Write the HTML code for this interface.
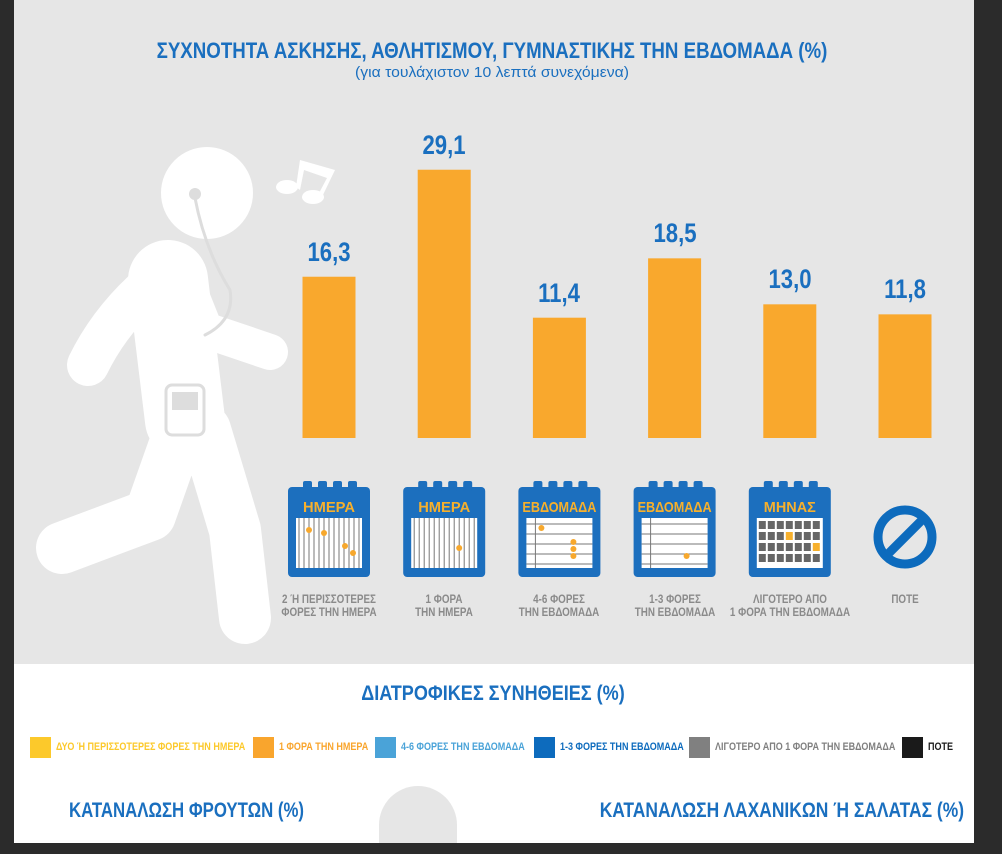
<!DOCTYPE html>
<html><head><meta charset="utf-8"><style>
body{margin:0;width:1002px;height:854px;background:#2b2b2b;overflow:hidden;font-family:"Liberation Sans",sans-serif}
#panel{position:absolute;left:14px;top:0;width:960px;height:664px;background:#e6e6e6}
#white{position:absolute;left:14px;top:664px;width:960px;height:179px;background:#fff;overflow:hidden}
.t{position:absolute;font-weight:bold;white-space:nowrap;transform-origin:center;}
</style></head><body>
<div id="panel"></div>
<div id="white"></div>
<svg id="svg" width="1002" height="854" style="position:absolute;left:0;top:0">
<g fill="none" stroke="#fff" stroke-linecap="round" stroke-linejoin="round">
<circle cx="207" cy="193" r="46" fill="#fff" stroke="none"/>
<path d="M168 280 L185 420" stroke-width="80"/>
<path d="M150 285 Q110 320 88 365" stroke-width="42"/>
<path d="M185 280 L205 330 L270 352" stroke-width="36"/>
<path d="M180 430 L150 515 L62 548" stroke-width="52"/>
<path d="M205 430 L235 530 L245 618" stroke-width="52"/>
<path d="M195 198 Q205 250 230 290 Q235 320 205 335" stroke="#ddd" stroke-width="3"/>
<circle cx="195" cy="194" r="6" fill="#ddd" stroke="none"/>
<rect x="166" y="385" width="38" height="50" rx="6" fill="#fff" stroke="#ddd" stroke-width="3"/>
<rect x="172" y="392" width="26" height="18" fill="#ddd" stroke="none"/>
</g>
<g fill="#fff">
<ellipse cx="287" cy="187" rx="11" ry="7"/><ellipse cx="313" cy="197" rx="11" ry="7"/>
<path d="M296 187 L300 160 L335 170 L322 197 L318 195 L327 178 L304 170 L300 190Z"/>
</g>
<g id="bars"></g>
<g id="icons"></g>
</svg>
<div class="t" style="left:0;width:984px;text-align:center;top:38px;font-size:22px;color:#1a6fbf;transform:scaleX(0.85)">ΣΥΧΝΟΤΗΤΑ ΑΣΚΗΣΗΣ, ΑΘΛΗΤΙΣΜΟΥ, ΓΥΜΝΑΣΤΙΚΗΣ ΤΗΝ ΕΒΔΟΜΑΔΑ (%)</div>
<div class="t" style="left:0;width:984px;text-align:center;top:64px;font-size:15px;font-weight:normal;color:#1a6fbf;transform:scaleX(1.05)">(για τουλάχιστον 10 λεπτά συνεχόμενα)</div>
<div class="t" style="left:0;width:986px;text-align:center;top:682px;font-size:21px;color:#1a6fbf;transform:scaleX(0.86)">ΔΙΑΤΡΟΦΙΚΕΣ ΣΥΝΗΘΕΙΕΣ (%)</div>
<div id="legend"></div>
<div class="t" style="left:40px;width:290px;text-align:center;top:799px;font-size:21px;color:#1a6fbf;transform:scaleX(0.8)">ΚΑΤΑΝΑΛΩΣΗ ΦΡΟΥΤΩΝ (%)</div>
<div class="t" style="left:564px;width:420px;text-align:center;top:799px;font-size:21px;color:#1a6fbf;transform:scaleX(0.83)">ΚΑΤΑΝΑΛΩΣΗ ΛΑΧΑΝΙΚΩΝ Ή ΣΑΛΑΤΑΣ (%)</div>
<div style="position:absolute;left:379px;top:786px;width:78px;height:57px;background:#e6e6e6;border-radius:39px 39px 0 0"></div>
<script>
const categories=["2 Ή ΠΕΡΙΣΣΟΤΕΡΕΣ|ΦΟΡΕΣ ΤΗΝ ΗΜΕΡΑ","1 ΦΟΡΑ|ΤΗΝ ΗΜΕΡΑ","4-6 ΦΟΡΕΣ|ΤΗΝ ΕΒΔΟΜΑΔΑ","1-3 ΦΟΡΕΣ|ΤΗΝ ΕΒΔΟΜΑΔΑ","ΛΙΓΟΤΕΡΟ ΑΠΟ|1 ΦΟΡΑ ΤΗΝ ΕΒΔΟΜΑΔΑ","ΠΟΤΕ"];
const values=[16.3,29.1,11.4,18.5,13.0,11.8];
const valueLabels=["16,3","29,1","11,4","18,5","13,0","11,8"];
const iconLabels=["ΗΜΕΡΑ","ΗΜΕΡΑ","ΕΒΔΟΜΑΔΑ","ΕΒΔΟΜΑΔΑ","ΜΗΝΑΣ",""];
const legendLabels=["ΔΥΟ Ή ΠΕΡΙΣΣΟΤΕΡΕΣ ΦΟΡΕΣ ΤΗΝ ΗΜΕΡΑ","1 ΦΟΡΑ ΤΗΝ ΗΜΕΡΑ","4-6 ΦΟΡΕΣ ΤΗΝ ΕΒΔΟΜΑΔΑ","1-3 ΦΟΡΕΣ ΤΗΝ ΕΒΔΟΜΑΔΑ","ΛΙΓΟΤΕΡΟ ΑΠΟ 1 ΦΟΡΑ ΤΗΝ ΕΒΔΟΜΑΔΑ","ΠΟΤΕ"];
const legendColors=["#fcc92b","#f9a52d","#4aa3d8","#0d6bbd","#808080","#1a1a1a"];
const legendText=["#fcc92b","#f9a52d","#4aa3d8","#0d6bbd","#808080","#1a1a1a"];
const NS="http://www.w3.org/2000/svg";
const baseY=438;
function xCenter(i){return 329+i*115.2;}
function yVal(v){return 413-8.36*v;}
const bars=document.getElementById('bars');
values.forEach((v,i)=>{
 const r=document.createElementNS(NS,'rect');
 
 
 const y=yVal(v);
 r.setAttribute('x',xCenter(i)-26.5);r.setAttribute('y',y);r.setAttribute('width',53);r.setAttribute('height',baseY-y);r.setAttribute('fill','#f9a82d');
 bars.appendChild(r);
 const d=document.createElement('div');
 
 
 d.className='t';d.textContent=valueLabels[i];
 d.style.cssText+=`left:${xCenter(i)-50}px;width:100px;text-align:center;top:${y-40}px;font-size:27px;color:#1a6fbf;transform:scaleX(0.82)`;
 document.body.appendChild(d);
 const lines=categories[i].split('|');
 const c=document.createElement('div');
 
 
 c.className='t';c.innerHTML=lines.join('<br>');
 c.style.cssText+=`left:${xCenter(i)-80}px;width:160px;text-align:center;top:593px;font-size:12px;line-height:13px;color:#8a8a8a;transform:scaleX(0.82)`;
 document.body.appendChild(c);
});
const icons=document.getElementById('icons');
iconLabels.forEach((lab,i)=>{
 const cx=xCenter(i);
 const g=document.createElementNS(NS,'g');
 
 
 if(!lab){
  g.innerHTML=`<circle cx="${cx}" cy="537" r="27" fill="none" stroke="#0d6bbd" stroke-width="9"/><line x1="${cx-18}" y1="${537+18}" x2="${cx+18}" y2="${537-18}" stroke="#0d6bbd" stroke-width="9"/>`;
 } else {
  let s=`<rect x="${cx-41}" y="487" width="82" height="90" rx="4" fill="#1c6fbe"/>`;
  for(let k=0;k<4;k++) s+=`<rect x="${cx-26+k*15}" y="481" width="9" height="10" rx="2" fill="#1c6fbe"/>`;
  s+=`<text x="${cx}" y="512" text-anchor="middle" font-family="Liberation Sans" font-weight="bold" font-size="15" fill="#f7b02c" textLength="${lab.length>6?74:52}" lengthAdjust="spacingAndGlyphs">${lab}</text>`;
  s+=`<rect x="${cx-33}" y="518" width="66" height="50" fill="#fff"/>`;
  if(i<2){for(let k=0;k<13;k++) s+=`<line x1="${cx-30+k*5}" y1="518" x2="${cx-30+k*5}" y2="568" stroke="#777" stroke-width="1"/>`;}
  else if(i<4){for(let k=0;k<5;k++) s+=`<line x1="${cx-33}" y1="${524+k*10}" x2="${cx+33}" y2="${524+k*10}" stroke="#777" stroke-width="1"/>`;s+=`<line x1="${cx-24}" y1="518" x2="${cx-24}" y2="568" stroke="#777"/>`;}
  else {for(let r=0;r<4;r++)for(let k=0;k<7;k++) s+=`<rect x="${cx-31+k*9}" y="${521+r*11}" width="7" height="8" fill="${(r==1&&k==3)||(r==2&&k==6)?'#f7b02c':'#666'}"/>`;}
  const dots=[[[-20,530],[-5,533],[16,546],[24,553]],[[15,548]],[[-18,528],[14,542],[14,549],[14,556]],[[12,556]],[]][i];
  dots.forEach(p=>s+=`<circle cx="${cx+p[0]}" cy="${p[1]}" r="3" fill="#f7a82d"/>`);
  g.innerHTML=s;
 }
 icons.appendChild(g);
});
const lx=[30,253,375,534,689,902];
legendLabels.forEach((l,i)=>{
 const sw=document.createElement('div');
 
 
 sw.style.cssText=`position:absolute;left:${lx[i]}px;top:737px;width:21px;height:21px;background:${legendColors[i]}`;
 document.body.appendChild(sw);
 const t=document.createElement('div');
 
 
 t.className='t';t.textContent=l;
 t.style.cssText+=`left:${lx[i]+26}px;top:741px;font-size:11px;color:${legendText[i]};transform:scaleX(0.82);transform-origin:left center`;
 document.body.appendChild(t);
});
</script>
</body></html>
